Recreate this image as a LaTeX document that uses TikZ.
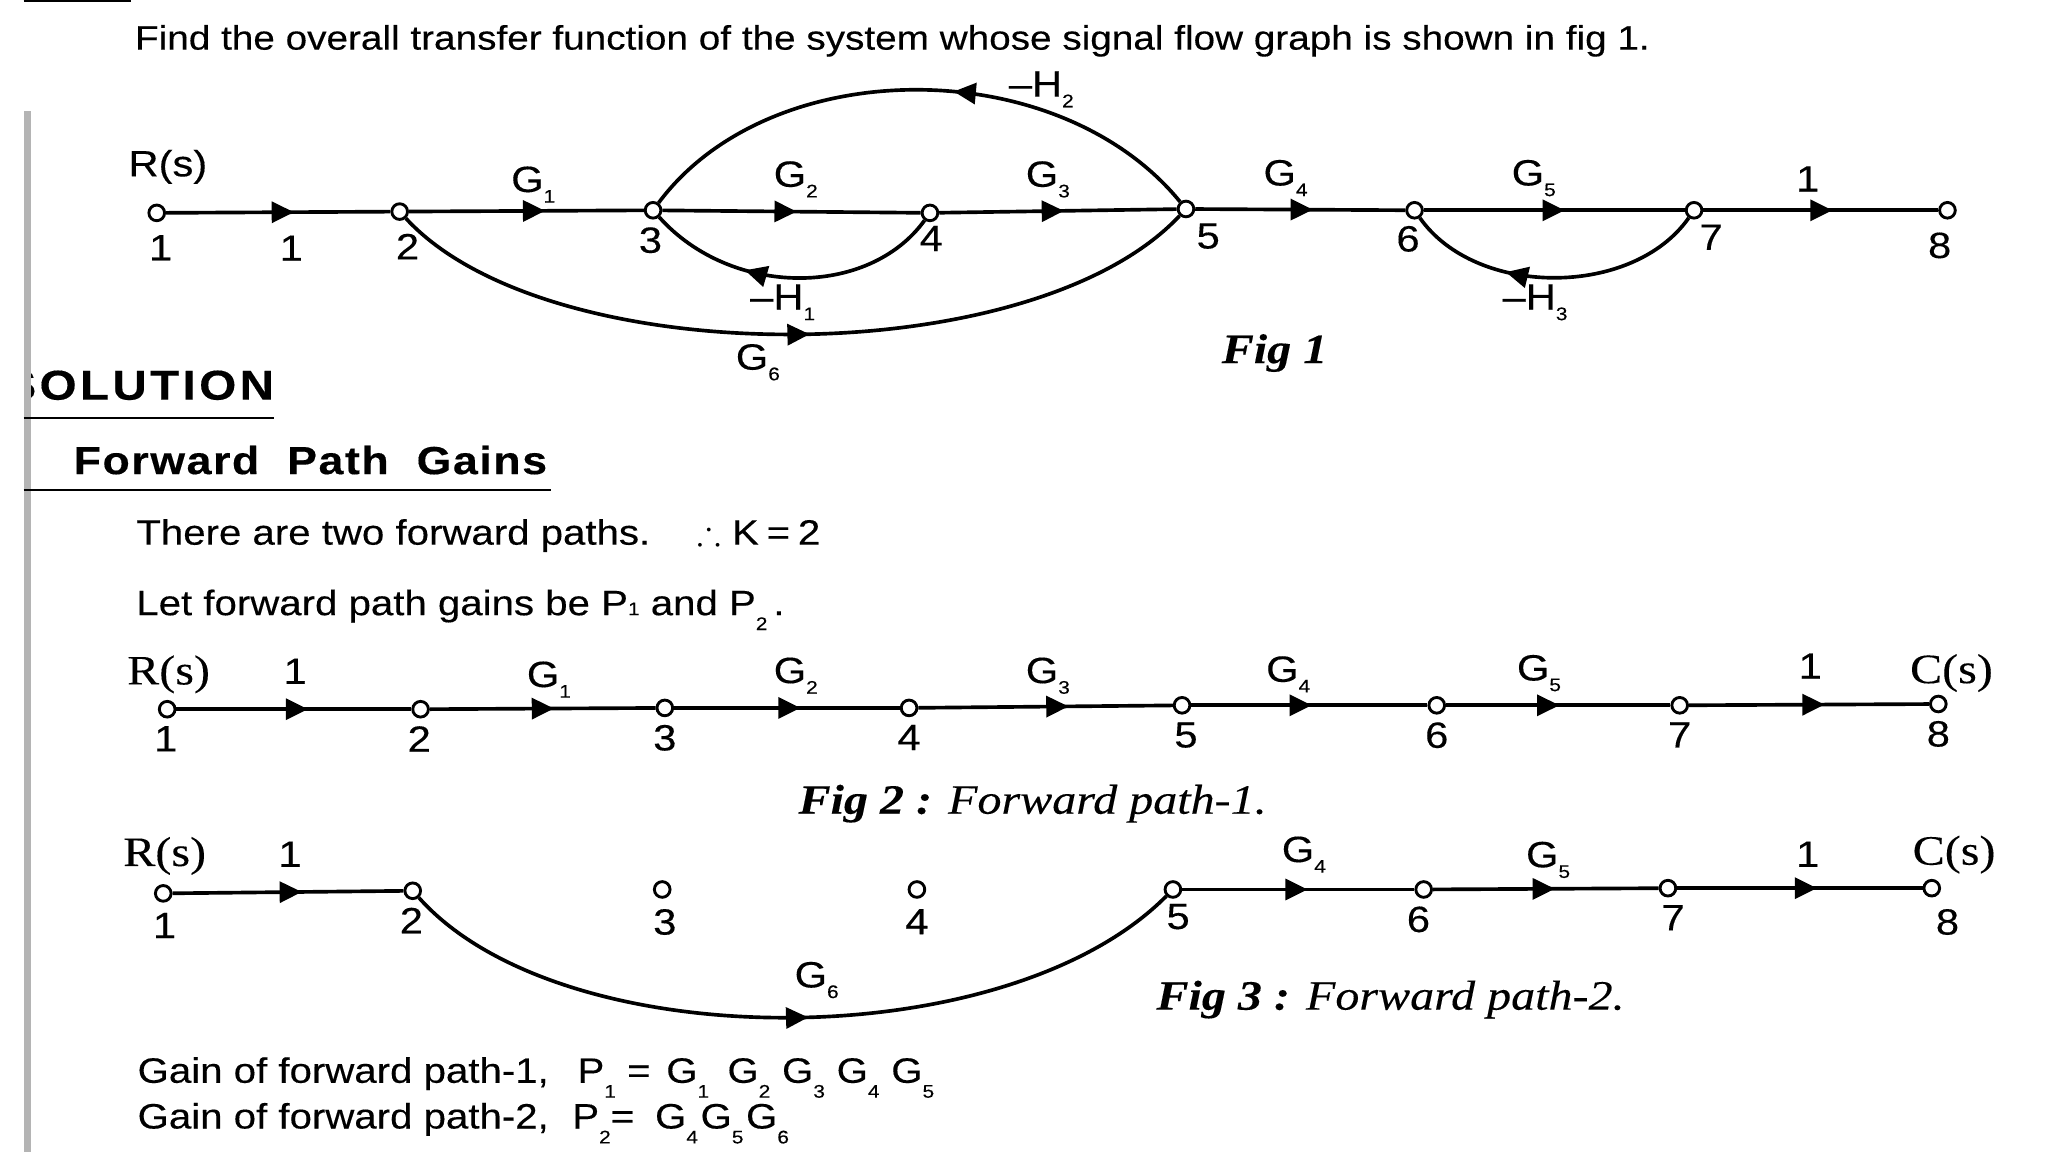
\documentclass[tikz,border=0pt]{standalone}
\usepackage{amsmath,amssymb}
\usepackage{fontspec}
\setmainfont[FakeStretch=1.14,FakeBold=0.3]{Liberation Sans}
\newfontfamily\figfont[FakeStretch=1.15,FakeBold=0.2]{Liberation Serif}
\usepackage{tikz}
\usetikzlibrary{arrows.meta,positioning,decorations.markings}
\definecolor{scangray}{HTML}{B4B4B4}
\newcommand{\gsub}[1]{\raisebox{-.55ex}{\fontsize{7}{8}\selectfont #1}}
\newcommand{\psub}[1]{\raisebox{-.8ex}{\fontsize{7}{8}\selectfont #1}}

\begin{document}
\begin{tikzpicture}[
      x=0.5pt,y=-0.5pt,
      font=\fontsize{14}{16}\selectfont,
      sig/.style={circle,draw,fill=white,line width=1.1pt,inner sep=0pt,minimum size=6pt},
      num/.style={inner sep=0pt},
      gain/.style={inner sep=0pt,anchor=base west},
      serif/.style={inner sep=0pt,anchor=base west,font=\figfont\fontsize{16}{18}\selectfont},
      body/.style={inner sep=0pt,anchor=base west,font=\fontsize{13.5}{15}\selectfont},
      head/.style={inner sep=0pt,anchor=base west,font=\bfseries\fontsize{15}{16}\selectfont},
      caption/.style={inner sep=0pt,anchor=base west,font=\figfont\fontsize{16}{18}\selectfont},
      rulewire/.style={line width=0.9pt},
      flow/.style={line width=1.4pt,postaction={decorate},
        decoration={markings,mark=at position #1 with {\arrow{Triangle[length=8.5pt,width=8pt]}}}}
    ]
    \useasboundingbox (0,0) rectangle (1568,882);
    % heading lines of the page
    \node[body,font=\fontsize{13}{15}\selectfont] (task) at (103,38) {Find the overall transfer function of the system whose signal flow graph is shown in fig 1.};
    \node[head,font=\bfseries\fontsize{16}{17}\selectfont] (sol) at (3,306) {\addfontfeatures{LetterSpace=8}SOLUTION};
    \path[fill=white] (0,270) rectangle (18,320);
    \path[fill=scangray] (18,85) rectangle (24,882);
    \coordinate (toprulea) at (18,1);
    \coordinate (topruleb) at (100,1);
    \draw[rulewire] (toprulea) -- (topruleb);
    \coordinate (solrulea) at (18,320);
    \coordinate (solruleb) at (210,320);
    \draw[rulewire] (solrulea) -- (solruleb);
    \node[head] (fwd) at (56,363) {\addfontfeatures{LetterSpace=4}Forward\ \ Path\ \ Gains};
    \coordinate (fwdrulea) at (18,375);
    \coordinate (fwdruleb) at (422,375);
    \draw[rulewire] (fwdrulea) -- (fwdruleb);
    \node[body] (two) at (104,417) {There are two forward paths.\hspace{18pt}$\therefore$ K\hspace{3pt}=\hspace{3pt}2};
    \node[body] (let) at (104,471) {Let forward path gains be P{\fontsize{7}{8}\selectfont 1} and P\psub{2}\,.};

    % fig 1
    \node[sig] (a1) at (120,163) {};
    \node[sig] (a2) at (306,162) {};
    \node[sig] (a3) at (500,161) {};
    \node[sig] (a4) at (712,163) {};
    \node[sig] (a5) at (908,160) {};
    \node[sig] (a6) at (1083,161) {};
    \node[sig] (a7) at (1297,161) {};
    \node[sig] (a8) at (1491,161) {};
    \draw[flow=.57] (a1) -- (a2);
    \draw[flow=.58] (a2) -- (a3);
    \draw[flow=.52] (a3) -- (a4);
    \draw[flow=.525] (a4) -- (a5);
    \draw[flow=.56] (a5) -- (a6);
    \draw[flow=.54] (a6) -- (a7);
    \draw[flow=.55] (a7) -- (a8);
    \draw[flow=.44] (a5) .. controls (810,40) and (590,40) .. (a3);
    \draw[flow=.66] (a4) .. controls (665,228) and (560,228) .. (a3);
    \draw[flow=.52] (a2) .. controls (420,286) and (790,286) .. (a5);
    \draw[flow=.66] (a7) .. controls (1250,228) and (1130,228) .. (a6);
    \node[num,below=4.75pt of a1,xshift=1.5pt] (la1) {1};
    \node[num,below=4.75pt of a2,xshift=3pt] (la2) {2};
    \node[num,below=2.75pt of a3,xshift=-1pt] (la3) {3};
    \node[num,below=1.25pt of a4,xshift=.5pt] (la4) {4};
    \node[num,below=1.75pt of a5,xshift=8.5pt] (la5) {5};
    \node[num,below=2.25pt of a6,xshift=-2.5pt] (la6) {6};
    \node[num,below=1.75pt of a7,xshift=6.5pt] (la7) {7};
    \node[num,below=4.75pt of a8,xshift=-3pt] (la8) {8};
    \node[gain] (rsa) at (98,135) {R(s)};
    \node[num] (ga0) at (223,190) {1};
    \node[gain] (ga1) at (391,147) {G\gsub{1}};
    \node[gain] (ga2) at (592,143) {G\gsub{2}};
    \node[gain] (ga3) at (785,143) {G\gsub{3}};
    \node[gain] (ga4) at (967,142) {G\gsub{4}};
    \node[gain] (ga5) at (1157,142) {G\gsub{5}};
    \node[num] (ga7) at (1384,137) {1};
    \node[gain] (gh2) at (772,74) {--H\gsub{2}};
    \node[gain] (gh1) at (574,237) {--H\gsub{1}};
    \node[gain] (ga6) at (563,283) {G\gsub{6}};
    \node[gain] (gh3) at (1150,237) {--H\gsub{3}};
    \node[caption] (figa) at (935,278) {\bfseries\itshape Fig 1};

    % fig 2
    \node[sig] (b1) at (128,543) {};
    \node[sig] (b2) at (322,543) {};
    \node[sig] (b3) at (509,542) {};
    \node[sig] (b4) at (696,542) {};
    \node[sig] (b5) at (905,540) {};
    \node[sig] (b6) at (1100,540) {};
    \node[sig] (b7) at (1286,540) {};
    \node[sig] (b8) at (1484,539) {};
    \draw[flow=.56] (b1) -- (b2);
    \draw[flow=.55] (b2) -- (b3);
    \draw[flow=.56] (b3) -- (b4);
    \draw[flow=.59] (b4) -- (b5);
    \draw[flow=.51] (b5) -- (b6);
    \draw[flow=.505] (b6) -- (b7);
    \draw[flow=.565] (b7) -- (b8);
    \node[num,below=2.75pt of b1,xshift=-.5pt] (lb1) {1};
    \node[num,below=2.75pt of b2,xshift=-.5pt] (lb2) {2};
    \node[num,below=2.75pt of b3] (lb3) {3};
    \node[num,below=2.75pt of b4] (lb4) {4};
    \node[num,below=2.75pt of b5,xshift=1.5pt] (lb5) {5};
    \node[num,below=2.75pt of b6] (lb6) {6};
    \node[num,below=2.75pt of b7] (lb7) {7};
    \node[num,below=2.75pt of b8] (lb8) {8};
    \node[serif] (rsb) at (97,524) {R(s)};
    \node[num] (gb0) at (226,514) {1};
    \node[gain] (gb1) at (403,526) {G\gsub{1}};
    \node[gain] (gb2) at (592,523) {G\gsub{2}};
    \node[gain] (gb3) at (785,523) {G\gsub{3}};
    \node[gain] (gb4) at (969,522) {G\gsub{4}};
    \node[gain] (gb5) at (1161,521) {G\gsub{5}};
    \node[num] (gb7) at (1386,510) {1};
    \node[serif] (csb) at (1462,523) {C(s)};
    \node[caption] (figb) at (611,623) {\bfseries\itshape Fig 2 : \mdseries Forward path-1.};

    % fig 3
    \node[sig] (c1) at (125,684) {};
    \node[sig] (c2) at (316,682) {};
    \node[sig] (c3) at (507,681) {};
    \node[sig] (c4) at (702,681) {};
    \node[sig] (c5) at (898,681) {};
    \node[sig] (c6) at (1090,681) {};
    \node[sig] (c7) at (1277,680) {};
    \node[sig] (c8) at (1479,680) {};
    \draw[flow=.56] (c1) -- (c2);
    \draw[flow=.54] (c5) -- (c6);
    \draw[flow=.54] (c6) -- (c7);
    \draw[flow=.57] (c7) -- (c8);
    \draw[flow=.52] (c2) .. controls (430,810) and (770,810) .. (c5);
    \node[num,below=3.75pt of c1,xshift=.5pt] (lc1) {1};
    \node[num,below=2.75pt of c2,xshift=-.5pt] (lc2) {2};
    \node[num,below=3.75pt of c3,xshift=1pt] (lc3) {3};
    \node[num,below=3.75pt of c4] (lc4) {4};
    \node[num,below=1.75pt of c5,xshift=2pt] (lc5) {5};
    \node[num,below=2.75pt of c6,xshift=-2pt] (lc6) {6};
    \node[num,below=2.75pt of c7,xshift=2pt] (lc7) {7};
    \node[num,below=4.25pt of c8,xshift=6pt] (lc8) {8};
    \node[serif] (rsc) at (94,663) {R(s)};
    \node[num] (gc0) at (222,654) {1};
    \node[gain] (gc4) at (981,660) {G\gsub{4}};
    \node[gain] (gc5) at (1168,664) {G\gsub{5}};
    \node[num] (gc7) at (1384,654) {1};
    \node[serif] (csc) at (1464,662) {C(s)};
    \node[gain] (gc6) at (608,756) {G\gsub{6}};
    \node[caption] (figc) at (885,773) {\bfseries\itshape Fig 3 : \mdseries Forward path-2.};

    % gains of the two paths
    \node[body] (pa) at (105,829) {Gain of forward path-1,\hspace{11pt}P\psub{1} =\hspace{6pt}G\psub{1}\hspace{7pt}G\psub{2}\hspace{4.5pt}G\psub{3}\hspace{4.5pt}G\psub{4}\hspace{4.5pt}G\psub{5}};
    \node[body] (pb) at (105,864) {Gain of forward path-2,\hspace{9pt}P\psub{2}=\hspace{8pt}G\psub{4}\hspace{1pt}G\psub{5}\hspace{1pt}G\psub{6}};
  \end{tikzpicture}
\end{document}
